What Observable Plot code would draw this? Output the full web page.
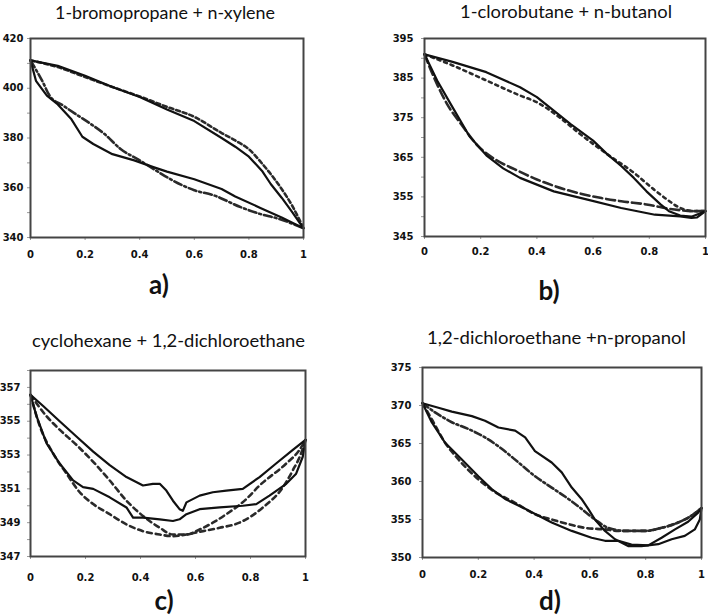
<!DOCTYPE html>
<html><head><meta charset="utf-8">
<script src="https://cdn.jsdelivr.net/npm/d3@7"></script>
<script src="https://cdn.jsdelivr.net/npm/@observablehq/plot@0.6"></script>
<style>
body{margin:0;background:#fff;}
#root{position:relative;width:708px;height:615px;overflow:hidden;background:#fff;}
.t{position:absolute;font-family:Lato,"Open Sans",sans-serif;font-size:18px;color:#111;white-space:nowrap;transform-origin:0 50%;}
.l{position:absolute;font-family:Lato,"Open Sans",sans-serif;font-weight:bold;font-size:26px;color:#111;white-space:nowrap;transform:translate(-50%,-50%);}
.p{position:absolute;}
</style>
</head><body>
<div id="root"></div>
<script>
// ---------- titles & labels ----------
const titles = ["1-bromopropane + n-xylene", "1-clorobutane + n-butanol", "cyclohexane + 1,2-dichloroethane", "1,2-dichloroethane +n-propanol"];
const panelLabels = ["a)", "b)", "c)", "d)"];
const xTicks = [0, 0.2, 0.4, 0.6, 0.8, 1];

// ---------- panel a: 1-bromopropane + n-xylene ----------
const aYMajor = [340, 360, 380, 400, 420];
const aYMinor = [340, 350, 360, 370, 380, 390, 400, 410, 420];
const aDewExpX = [0, 0.1, 0.2, 0.3, 0.4, 0.5, 0.6, 0.7, 0.75, 0.8, 0.85, 0.88, 0.92, 0.96, 1];
const aDewExpY = [411.2, 409, 405, 400.5, 396.5, 391.5, 386.8, 380, 376.5, 372.5, 366.5, 361.5, 356, 350, 343.7];
const aDewCalcX = [0, 0.1, 0.2, 0.3, 0.4, 0.5, 0.6, 0.7, 0.75, 0.8, 0.85, 0.88, 0.92, 0.96, 1];
const aDewCalcY = [411.2, 408.5, 404.5, 400.5, 396.7, 392.5, 388.5, 382, 379, 375.5, 369.5, 365.5, 359.5, 352.5, 343.7];
const aBubExpX = [0, 0.02, 0.06, 0.1, 0.15, 0.19, 0.23, 0.3, 0.38, 0.45, 0.5, 0.6, 0.7, 0.75, 0.84, 0.92, 1];
const aBubExpY = [411.2, 403, 397, 393.5, 387.5, 380.5, 377.6, 373.5, 371, 368.3, 366.5, 363.4, 359.5, 356.5, 352, 348, 343.7];
const aBubCalcX = [0, 0.045, 0.07, 0.12, 0.17, 0.22, 0.27, 0.33, 0.4, 0.45, 0.51, 0.6, 0.67, 0.77, 0.84, 0.91, 1];
const aBubCalcY = [411.2, 402.5, 397, 393, 389.3, 385.7, 381.7, 375.6, 371, 367.6, 363.6, 359, 357, 352.2, 349.5, 347.5, 343.7];

// ---------- panel b: 1-clorobutane + n-butanol ----------
const bYMajor = [345, 355, 365, 375, 385, 395];
const bYMinor = [345, 350, 355, 360, 365, 370, 375, 380, 385, 390, 395];
const bDewExpX = [0, 0.1, 0.22, 0.34, 0.4, 0.46, 0.52, 0.6, 0.65, 0.7, 0.745, 0.79, 0.84, 0.87, 0.91, 0.95, 1];
const bDewExpY = [391, 389.1, 386.5, 382.7, 380.2, 376.8, 373.4, 369.2, 365.8, 362.8, 359.8, 356.4, 353.1, 351.4, 350.3, 350, 351.4];
const bDewCalcX = [0, 0.1, 0.22, 0.34, 0.4, 0.48, 0.555, 0.65, 0.745, 0.816, 0.864, 0.91, 0.96, 1];
const bDewCalcY = [391, 388.2, 384.4, 380.6, 378.9, 375.1, 370.8, 365.8, 361.1, 356.9, 354.3, 352.2, 351.4, 351.4];
const bBubExpX = [0, 0.045, 0.1, 0.16, 0.22, 0.28, 0.34, 0.46, 0.58, 0.7, 0.82, 0.91, 0.95, 0.97, 1];
const bBubExpY = [391, 384.4, 377.6, 370.3, 365.5, 362.2, 359.8, 356.4, 354.3, 352.2, 350.5, 350.1, 349.7, 349.8, 351.4];
const bBubCalcX = [0, 0.033, 0.08, 0.13, 0.19, 0.26, 0.32, 0.4, 0.5, 0.63, 0.7, 0.79, 0.89, 0.96, 1];
const bBubCalcY = [391, 385.3, 378.5, 373.4, 367.9, 364.1, 362, 359.4, 356.9, 354.7, 353.9, 353.1, 351.8, 351.4, 351.4];

// ---------- panel c: cyclohexane + 1,2-dichloroethane ----------
const cYMajor = [347, 349, 351, 353, 355, 357];
const cYMinor = [347, 348, 349, 350, 351, 352, 353, 354, 355, 356, 357, 358];
const cDewExpX = [0, 0.046, 0.106, 0.167, 0.228, 0.288, 0.349, 0.409, 0.445, 0.47, 0.494, 0.518, 0.542, 0.554, 0.567, 0.615, 0.663, 0.712, 0.772, 0.833, 0.893, 0.954, 1];
const cDewExpY = [356.56, 355.9, 355.0, 354.1, 353.2, 352.4, 351.7, 351.2, 351.3, 351.3, 350.9, 350.3, 349.8, 349.7, 350.2, 350.6, 350.8, 350.9, 351.0, 351.7, 352.5, 353.3, 353.9];
const cBubExpX = [0, 0.022, 0.058, 0.106, 0.155, 0.191, 0.228, 0.288, 0.349, 0.373, 0.409, 0.47, 0.518, 0.542, 0.567, 0.615, 0.688, 0.772, 0.821, 0.869, 0.93, 0.966, 0.99, 1];
const cBubExpY = [356.56, 355.3, 353.7, 352.5, 351.5, 351.1, 351.0, 350.5, 349.9, 349.3, 349.3, 349.2, 349.1, 349.2, 349.5, 349.8, 349.9, 350.0, 350.1, 350.6, 351.3, 351.9, 352.9, 353.9];
const cDewCalcX = [0, 0.058, 0.106, 0.167, 0.228, 0.288, 0.349, 0.409, 0.47, 0.518, 0.567, 0.615, 0.663, 0.712, 0.785, 0.833, 0.93, 0.978, 1];
const cDewCalcY = [356.56, 355.3, 354.5, 353.6, 352.6, 351.5, 350.3, 349.4, 348.7, 348.3, 348.3, 348.6, 349.0, 349.5, 350.4, 351.2, 352.5, 353.3, 353.9];
const cBubCalcX = [0, 0.034, 0.082, 0.131, 0.179, 0.228, 0.288, 0.349, 0.409, 0.47, 0.518, 0.567, 0.627, 0.688, 0.76, 0.845, 0.918, 0.954, 0.984, 1];
const cBubCalcY = [356.56, 354.7, 353.1, 351.9, 350.8, 350.1, 349.5, 348.9, 348.5, 348.3, 348.2, 348.3, 348.5, 348.7, 349.0, 349.9, 351.1, 352.1, 353.1, 353.9];

// ---------- panel d: 1,2-dichloroethane + n-propanol ----------
const dYMajor = [350, 355, 360, 365, 370, 375];
const dYMinor = [350, 355, 360, 365, 370, 375];
const dDewExpX = [0, 0.057, 0.105, 0.177, 0.224, 0.272, 0.332, 0.368, 0.403, 0.463, 0.499, 0.535, 0.57, 0.594, 0.618, 0.654, 0.69, 0.737, 0.785, 0.845, 0.893, 0.94, 0.976, 0.994, 1];
const dDewExpY = [370.3, 369.7, 369.2, 368.6, 368.0, 367.1, 366.7, 365.8, 364.0, 362.5, 361.2, 359.2, 357.7, 356.4, 355.0, 353.5, 352.4, 351.5, 351.5, 351.75, 352.4, 352.85, 353.7, 355.0, 356.5];
const dBubExpX = [0, 0.033, 0.081, 0.141, 0.2, 0.248, 0.296, 0.368, 0.463, 0.535, 0.606, 0.654, 0.702, 0.749, 0.809, 0.857, 0.905, 0.952, 0.988, 1];
const dBubExpY = [370.3, 367.8, 365.1, 362.9, 360.7, 359.0, 357.7, 356.4, 354.6, 353.5, 352.6, 352.2, 352.2, 351.7, 351.6, 352.6, 353.7, 354.7, 355.9, 356.5];
const dDewCalcX = [0, 0.045, 0.105, 0.165, 0.224, 0.284, 0.344, 0.403, 0.463, 0.523, 0.57, 0.618, 0.666, 0.726, 0.797, 0.857, 0.916, 0.964, 1];
const dDewCalcY = [370.3, 369.1, 367.8, 366.9, 365.8, 364.3, 362.5, 360.7, 359.2, 357.7, 356.4, 355.0, 353.9, 353.5, 353.5, 353.9, 354.6, 355.5, 356.5];
const dBubCalcX = [0, 0.033, 0.081, 0.129, 0.2, 0.26, 0.332, 0.403, 0.463, 0.523, 0.582, 0.654, 0.702, 0.797, 0.857, 0.916, 0.964, 1];
const dBubCalcY = [370.3, 368.2, 365.1, 362.9, 360.3, 358.6, 357.2, 355.7, 355.0, 354.4, 353.9, 353.7, 353.5, 353.5, 353.9, 354.6, 355.5, 356.5];

const pts = (xs, ys) => xs.map((x, i) => [x, ys[i]]);
const root = document.getElementById("root");

// title placed with its left edge at x0 and stretched/compressed to span up to x1
function addTitle(text, x0, x1, cy) {
  const d = document.createElement("div");
  d.className = "t"; d.textContent = text;
  root.appendChild(d);
  const w = d.getBoundingClientRect().width;
  const h = d.getBoundingClientRect().height;
  d.style.left = x0 + "px"; d.style.top = (cy - h / 2) + "px";
  d.style.transform = `scaleX(${(x1 - x0) / w})`;
}
function addLabel(text, x, y) {
  const d = document.createElement("div");
  d.className = "l"; d.textContent = text;
  d.style.left = x + "px"; d.style.top = y + "px";
  root.appendChild(d);
}

function panel(cfg) {
  const [sx, sy, sw, sh] = cfg.svg;
  const [fx0, fy0, fx1, fy1] = cfg.frame;
  const solid = {stroke: "#111", strokeWidth: 2.2, strokeLinejoin: "round", strokeLinecap: "round"};
  const plot = Plot.plot({
    width: sw, height: sh,
    marginLeft: fx0 - sx, marginTop: fy0 - sy, marginRight: sx + sw - fx1, marginBottom: sy + sh - fy1,
    x: {domain: [0, 1]},
    y: {domain: cfg.yDomain},
    style: {fontFamily: "'DejaVu Sans', Verdana, sans-serif", fontSize: "10px", fontWeight: "bold", color: "#111", background: "transparent", overflow: "visible"},
    marks: [
      Plot.axisY(cfg.yMinor, {tickSize: 3, stroke: "#999", tickFormat: () => "", label: null}),
      Plot.axisY(cfg.yMajor, {tickSize: 0, tickPadding: cfg.yPad, tickFormat: d => String(d), label: null, fill: "#111"}),
      Plot.axisX(xTicks, {tickSize: 3, stroke: "#999", tickPadding: cfg.xPad, tickFormat: d => String(+d.toFixed(1)), label: null, fill: "#111"}),
      Plot.line(pts(cfg.dewCalc[0], cfg.dewCalc[1]), {stroke: "#2a2a2a", strokeWidth: 2.6, strokeDasharray: cfg.dash[0], curve: "monotone-x"}),
      Plot.line(pts(cfg.bubCalc[0], cfg.bubCalc[1]), {stroke: "#2a2a2a", strokeWidth: 2.6, strokeDasharray: cfg.dash[1], curve: "monotone-x"}),
      Plot.line(pts(cfg.dewExp[0], cfg.dewExp[1]), {...solid, curve: "linear"}),
      Plot.line(pts(cfg.bubExp[0], cfg.bubExp[1]), {...solid, curve: "linear"}),
      Plot.frame({stroke: "#444", strokeWidth: 2})
    ]
  });
  plot.classList.add("p");
  plot.style.left = sx + "px"; plot.style.top = sy + "px";
  root.appendChild(plot);
}

panel({svg: [0, 25, 354, 255], frame: [30, 38, 303, 237], yDomain: [340, 420], yMajor: aYMajor, yMinor: aYMinor, yPad: 7, xPad: 10,
  dewExp: [aDewExpX, aDewExpY], dewCalc: [aDewCalcX, aDewCalcY], bubExp: [aBubExpX, aBubExpY], bubCalc: [aBubCalcX, aBubCalcY], dash: ["4,3", "8,3,2,3"]});
panel({svg: [354, 25, 354, 245], frame: [424, 38, 705, 236], yDomain: [345, 395], yMajor: bYMajor, yMinor: bYMinor, yPad: 11, xPad: 8,
  dewExp: [bDewExpX, bDewExpY], dewCalc: [bDewCalcX, bDewCalcY], bubExp: [bBubExpX, bBubExpY], bubCalc: [bBubCalcX, bBubCalcY], dash: ["3,4", "9,4"]});
panel({svg: [0, 355, 354, 230], frame: [30, 370, 305, 556], yDomain: [347, 358], yMajor: cYMajor, yMinor: cYMinor, yPad: 10, xPad: 14,
  dewExp: [cDewExpX, cDewExpY], dewCalc: [cDewCalcX, cDewCalcY], bubExp: [cBubExpX, cBubExpY], bubCalc: [cBubCalcX, cBubCalcY], dash: ["5,4", "5,4"]});
panel({svg: [354, 355, 354, 230], frame: [422, 367, 701, 557], yDomain: [350, 375], yMajor: dYMajor, yMinor: dYMinor, yPad: 11, xPad: 10,
  dewExp: [dDewExpX, dDewExpY], dewCalc: [dDewCalcX, dDewCalcY], bubExp: [dBubExpX, dBubExpY], bubCalc: [dBubCalcX, dBubCalcY], dash: ["7,3,2,3", "5,4"]});

addTitle(titles[0], 55, 275, 12);
addTitle(titles[1], 460, 672, 11);
addTitle(titles[2], 32, 305, 340);
addTitle(titles[3], 427, 686, 337);
addLabel(panelLabels[0], 159, 284);
addLabel(panelLabels[1], 549, 290);
addLabel(panelLabels[2], 164, 600);
addLabel(panelLabels[3], 550, 600);
</script>
</body></html>
